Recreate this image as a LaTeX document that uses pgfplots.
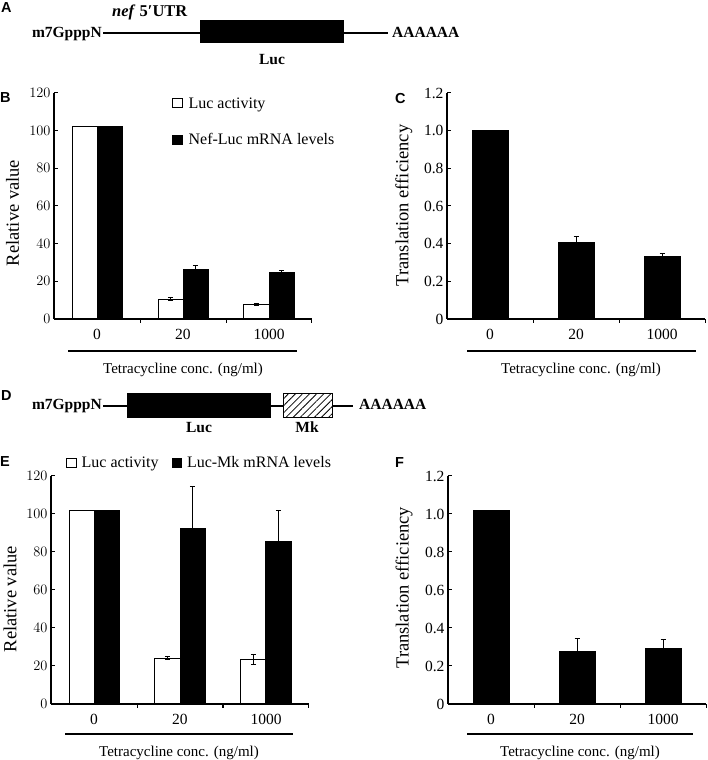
\documentclass[border=0pt]{standalone}
\usepackage{pgfplots}
\pgfplotsset{compat=1.18}
\usepackage{fontspec}
\setmainfont{Liberation Serif}
\newfontfamily\lettersf{Liberation Sans}
\usetikzlibrary{patterns.meta}

\pgfplotsset{
  panel/.style={
    scale only axis, width=258pt,
    xmin=-0.5, xmax=2.5, ymin=0,
    axis lines=left, axis line style={-, line width=1.2pt},
    tick style={line width=1pt, black},
    tick align=inside, major tick length=4pt,
    xtick={0.5,1.5,2.5}, xticklabels={,,},
    extra x ticks={0,1,2}, extra x tick labels={0,20,1000},
    extra x tick style={major tick length=0pt, tick label style={yshift=-7pt}},
    ticklabel style={font=\fontsize{15.5}{18}\selectfont},
    ylabel style={font=\fontsize{18.5}{22}\selectfont},
    ybar=0pt,
    clip=false,
  },
  whitebar/.style={draw=black, fill=white, line width=1pt,
    error bars/.cd, y dir=both, y explicit,
    error bar style={line width=1pt, black},
    error mark options={rotate=90, mark size=2.5pt, line width=1pt, black},
    /pgfplots/.cd},
  blackbar/.style={draw=black, fill=black, line width=1pt,
    error bars/.cd, y dir=plus, y explicit,
    error bar style={line width=1pt, black},
    error mark options={rotate=90, mark size=2.5pt, line width=1pt, black},
    /pgfplots/.cd},
  sqlegend/.style={legend image code/.code={\draw[##1, line width=1pt] (0pt,-4.5pt) rectangle (9.5pt,4.5pt);}},
}

\begin{document}
\begin{tikzpicture}[x=1pt,y=1pt]
\useasboundingbox (0,0) rectangle (707,760);

% ---------- panel letters ----------
\tikzset{letter/.style={font=\lettersf\bfseries\fontsize{14.5}{16}\selectfont, inner sep=0pt, anchor=west}}
\node[letter] at (1,752) {A};
\node[letter] at (0,662) {B};
\node[letter] at (395,661) {C};
\node[letter] at (1,364) {D};
\node[letter] at (0,298) {E};
\node[letter] at (395,297) {F};

% ---------- diagram A ----------
\tikzset{dia/.style={font=\bfseries\fontsize{15.5}{18}\selectfont, inner sep=0pt}}
\draw[line width=1.3pt] (103,727) -- (200,727);
\fill[black] (200,717) rectangle (344,740);
\draw[line width=1.3pt] (344,727) -- (388,727);
\node[dia, anchor=base east] at (102,722) {m7GpppN};
\node[dia, anchor=base west] at (392,722) {AAAAAA};
\node[dia, anchor=base west, font=\bfseries\fontsize{16.5}{19}\selectfont] at (112,743) {\itshape nef\/ \upshape 5′UTR};
\node[dia, anchor=base] at (272,695) {Luc};

% ---------- diagram D ----------
\draw[line width=1.3pt] (103,354) -- (127,354);
\fill[black] (127,342) rectangle (271,367);
\draw[line width=1.3pt] (271,354) -- (283,354);
\draw[line width=1pt, pattern={Lines[angle=45, distance=5pt, line width=0.8pt]}] (283,342) rectangle (332,366);
\draw[line width=1.3pt] (332,354) -- (353,354);
\node[dia, anchor=base east] at (102,350) {m7GpppN};
\node[dia, anchor=base west] at (359,350) {AAAAAA};
\node[dia, anchor=base] at (199,327) {Luc};
\node[dia, anchor=base] at (307,327) {Mk};

% ---------- panel B ----------
\begin{axis}[panel, at={(54pt,441pt)}, anchor=south west, height=226pt,
  ymax=120, ytick={0,20,40,60,80,100,120}, bar width=25pt,
  ylabel={Relative value},
  ylabel style={at={(axis description cs:-0.161,0.469)}, anchor=center},
  legend style={at={(axis description cs:0.457,0.99)}, anchor=north west,
    draw=none, fill=none, inner sep=0pt, row sep=20pt,
    font=\fontsize{16}{19}\selectfont,
    /tikz/every odd column/.append style={column sep=4pt}},
  legend cell align=left]
\addplot[sqlegend, whitebar] table[x=x, y=y, y error=e] {
x y e
0 102 0
1 10.5 0.8
2 7.5 0.5
};
\addlegendentry{Luc activity}
\addplot[sqlegend, blackbar] table[x=x, y=y, y error=e] {
x y e
0 102 0
1 26.2 2.3
2 24.5 1.0
};
\addlegendentry{Nef-Luc mRNA levels}
\end{axis}
\draw[line width=2.5pt] (68,409) -- (297,409);
\node[font=\fontsize{15}{18}\selectfont] at (183,390) {Tetracycline conc. (ng/ml)};

% ---------- panel C ----------
\begin{axis}[panel, at={(447pt,441pt)}, anchor=south west, height=226pt,
  ymax=1.2, ytick={0,0.2,0.4,0.6,0.8,1.0,1.2},
  yticklabels={0,0.2,0.4,0.6,0.8,1.0,1.2}, bar width=36pt,
  ylabel={Translation efficiency},
  ylabel style={at={(axis description cs:-0.167,0.502)}, anchor=center}]
\addplot[blackbar] table[x=x, y=y, y error=e] {
x y e
0 1.0 0
1 0.405 0.035
2 0.331 0.016
};
\end{axis}
\draw[line width=2.5pt] (467,409) -- (696,409);
\node[font=\fontsize{15}{18}\selectfont] at (581,390) {Tetracycline conc. (ng/ml)};

% ---------- panel E ----------
\begin{axis}[panel, at={(51pt,56pt)}, anchor=south west, height=228pt,
  ymax=120, ytick={0,20,40,60,80,100,120}, bar width=25pt,
  ylabel={Relative value},
  ylabel style={at={(axis description cs:-0.159,0.46)}, anchor=center},
  legend columns=2,
  legend style={at={(axis description cs:0.058,1.057)}, anchor=west,
    draw=none, fill=none, inner sep=0pt,
    font=\fontsize{16}{19}\selectfont,
    /tikz/every odd column/.append style={column sep=3pt},
    /tikz/every even column/.append style={column sep=11pt}},
  legend cell align=left]
\addplot[sqlegend, whitebar] table[x=x, y=y, y error=e] {
x y e
0 102 0
1 24.0 0.8
2 23.5 2.5
};
\addlegendentry{Luc activity}
\addplot[sqlegend, blackbar] table[x=x, y=y, y error=e] {
x y e
0 102 0
1 92.6 21.8
2 85.4 16.2
};
\addlegendentry{Luc-Mk mRNA levels}
\end{axis}
\draw[line width=2.5pt] (65,26) -- (293,26);
\node[font=\fontsize{15}{18}\selectfont] at (179,7) {Tetracycline conc. (ng/ml)};

% ---------- panel F ----------
\begin{axis}[panel, at={(448pt,56pt)}, anchor=south west, height=228pt,
  ymax=1.2, ytick={0,0.2,0.4,0.6,0.8,1.0,1.2},
  yticklabels={0,0.2,0.4,0.6,0.8,1.0,1.2}, bar width=36pt,
  ylabel={Translation efficiency},
  ylabel style={at={(axis description cs:-0.17,0.51)}, anchor=center}]
\addplot[blackbar] table[x=x, y=y, y error=e] {
x y e
0 1.02 0
1 0.276 0.068
2 0.292 0.046
};
\end{axis}
\draw[line width=2.5pt] (467,26) -- (693,26);
\node[font=\fontsize{15}{18}\selectfont] at (580,7) {Tetracycline conc. (ng/ml)};
\end{tikzpicture}
\end{document}
